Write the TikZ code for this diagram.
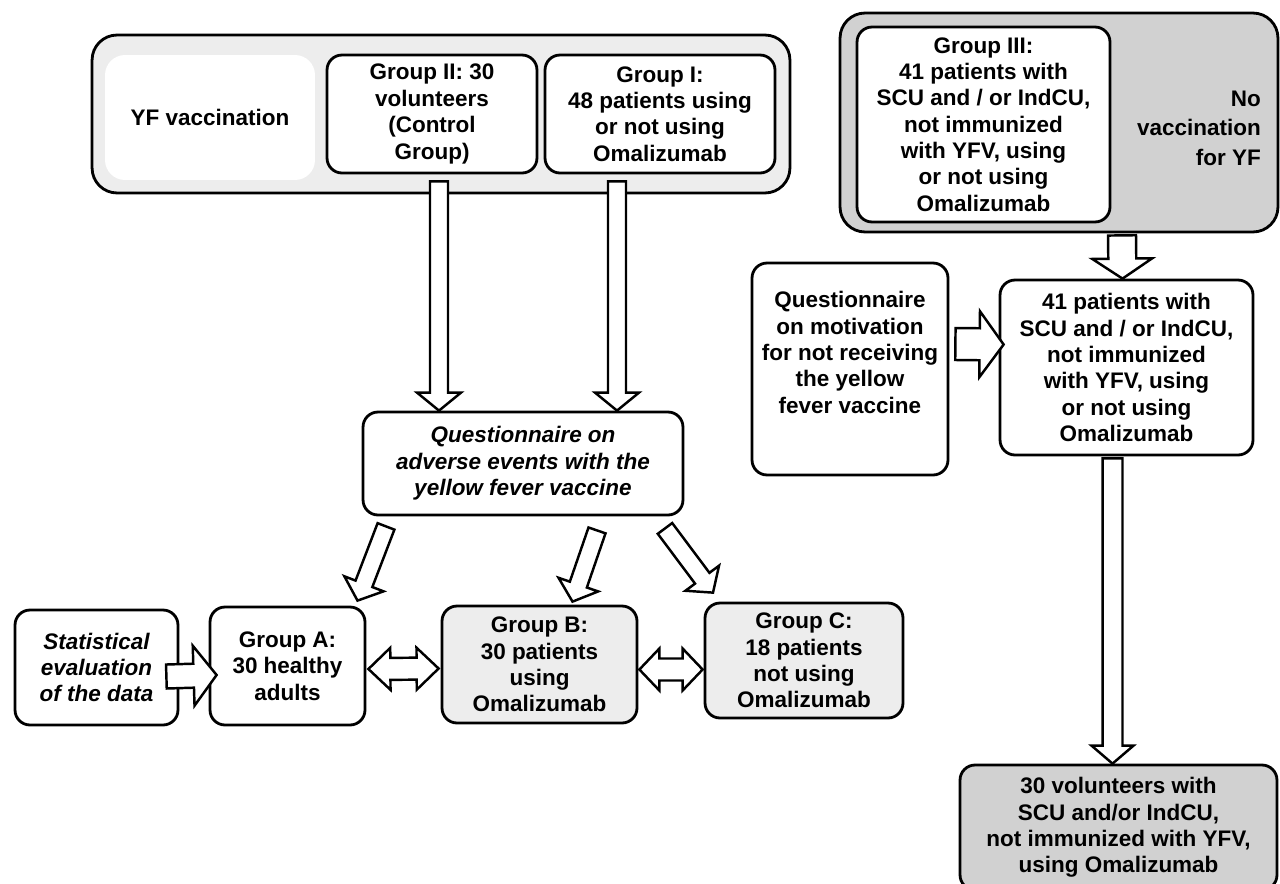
\documentclass[tikz,border=0pt]{standalone}
\usepackage{fontspec}
\setmainfont{Liberation Sans}
\usetikzlibrary{calc}

\definecolor{lightfill}{gray}{0.93}
\definecolor{darkfill}{gray}{0.82}
\tikzstyle{frame} = [rectangle, rounded corners=0.5cm, draw=black, line width=1.6pt, inner sep=0pt]
\tikzstyle{group} = [rectangle, rounded corners=0.3cm, draw=black, line width=1.6pt, fill=white, align=center, inner sep=0pt, font=\fontsize{12.8}{15}\selectfont\bfseries]
\tikzstyle{query} = [group, font=\fontsize{12.8}{15}\selectfont\bfseries\itshape]
\tikzstyle{blockarrow} = [draw=black, fill=white, line width=1.4pt, line join=miter]

% hollow arrow: tail, tip, half shaft, half head, head length
\newcommand{\blockarrow}[5]{%
  \coordinate (ba-s) at (#1);
  \coordinate (ba-t) at (#2);
  \coordinate (ba-h) at ($(ba-t)!#5!(ba-s)$);
  \draw [blockarrow] ($(ba-s)!#3!90:(ba-t)$) -- ($(ba-h)!#3!90:(ba-t)$) -- ($(ba-h)!#4!90:(ba-t)$) -- (ba-t)
    -- ($(ba-h)!#4!-90:(ba-t)$) -- ($(ba-h)!#3!-90:(ba-t)$) -- ($(ba-s)!#3!-90:(ba-t)$) -- cycle;
}
% same with a head on both ends
\newcommand{\blockdarrow}[5]{%
  \coordinate (ba-s) at (#1);
  \coordinate (ba-t) at (#2);
  \coordinate (ba-h) at ($(ba-t)!#5!(ba-s)$);
  \coordinate (ba-g) at ($(ba-s)!#5!(ba-t)$);
  \draw [blockarrow] (ba-s) -- ($(ba-g)!#4!90:(ba-t)$) -- ($(ba-g)!#3!90:(ba-t)$) -- ($(ba-h)!#3!90:(ba-t)$) -- ($(ba-h)!#4!90:(ba-t)$) -- (ba-t)
    -- ($(ba-h)!#4!-90:(ba-t)$) -- ($(ba-h)!#3!-90:(ba-t)$) -- ($(ba-g)!#3!-90:(ba-t)$) -- ($(ba-g)!#4!-90:(ba-t)$) -- cycle;
}

\begin{document}
\begin{tikzpicture}[x=0.02cm, y=-0.02cm]
  \useasboundingbox (0,0) rectangle (1280,883);
  \clip (0,0) rectangle (1280,883);
  % vaccinated groups
  \node (yf) [frame, fill=lightfill, minimum width=13.96cm, minimum height=3.16cm] at (441,114) {};
  \node (yfv) [group, draw=none, rounded corners=0.4cm, minimum width=4.2cm, minimum height=2.5cm] at (210,117.5) {YF vaccination};
  \node (g2) [group, minimum width=4.2cm, minimum height=2.36cm] at (432,114) {Group II: 30\\volunteers\\(Control\\Group)};
  \node (g1) [group, minimum width=4.6cm, minimum height=2.36cm] at (660,114) {Group I:\\48 patients using\\or not using\\Omalizumab};
  \node (qa) [query, minimum width=6.4cm, minimum height=2.06cm] at (523,463.5) {Questionnaire on\\adverse events with the\\yellow fever vaccine};
  \node (stat) [query, minimum width=3.26cm, minimum height=2.3cm] at (96.5,667.5) {Statistical\\evaluation\\of the data};
  \node (ga) [group, minimum width=3.1cm, minimum height=2.36cm] at (287.5,666) {Group A:\\30 healthy\\adults};
  \node (gb) [group, fill=lightfill, minimum width=3.9cm, minimum height=2.34cm] at (539.5,664.5) {Group B:\\30 patients\\using\\Omalizumab};
  \node (gc) [group, fill=lightfill, minimum width=3.96cm, minimum height=2.3cm] at (804,660.5) {Group C:\\18 patients\\not using\\Omalizumab};
  % not vaccinated
  \node (g3box) [frame, fill=darkfill, minimum width=8.76cm, minimum height=4.38cm] at (1059,122.5) {};
  \node (g3) [group, minimum width=5.06cm, minimum height=3.9cm] at (983.5,124.5) {Group III:\\41 patients with\\SCU and / or IndCU,\\not immunized\\with YFV, using\\or not using\\Omalizumab};
  \node (novac) [anchor=east, align=right, font=\fontsize{12.8}{16.8}\selectfont\bfseries] at (1267,128) {No\\vaccination\\for YF};
  \node (mot) [group, minimum width=3.92cm, minimum height=4.24cm] at (850,369) {Questionnaire\\on motivation\\for not receiving\\the yellow\\fever vaccine\\[4pt]\mbox{}};
  \node (p41) [group, minimum width=5.06cm, minimum height=3.5cm] at (1126.5,367.5) {41 patients with\\SCU and / or IndCU,\\not immunized\\with YFV, using\\or not using\\Omalizumab};
  \node (v30) [group, fill=darkfill, minimum width=6.34cm, minimum height=2.5cm] at (1118.5,827.5) {30 volunteers with\\SCU and/or IndCU,\\not immunized with YFV,\\using Omalizumab};

  \blockarrow{[shift={(7,7)}]g2.south}{[shift={(-84,0)}]qa.north}{1.8mm}{4.4mm}{3.6mm}
  \blockarrow{[shift={(-43,7)}]g1.south}{[shift={(94,0)}]qa.north}{1.8mm}{4.4mm}{3.6mm}
  \blockarrow{[shift={(-137,10)}]qa.south}{[shift={(70,-5)}]ga.north}{1.8mm}{4.2mm}{3.6mm}
  \blockarrow{[shift={(74,14)}]qa.south}{[shift={(33,-3)}]gb.north}{1.8mm}{4.2mm}{3.6mm}
  \blockarrow{[shift={(142,12)}]qa.south}{[shift={(-91,-9)}]gc.north}{1.8mm}{4.2mm}{3.6mm}
  \blockarrow{[shift={(-13,9)}]stat.east}{[shift={(8,9)}]ga.west}{2.4mm}{6mm}{4.6mm}
  \blockdarrow{[shift={(2,3)}]ga.east}{[shift={(-2,4)}]gb.west}{2.2mm}{4.2mm}{4.4mm}
  \blockdarrow{[shift={(1,5)}]gb.east}{[shift={(-1,9)}]gc.west}{2.2mm}{4.2mm}{4mm}

  \blockarrow{[shift={(63,2)}]g3box.south}{[shift={(-4,0)}]p41.north}{2.8mm}{6mm}{4mm}
  \blockarrow{[shift={(6,-25)}]mot.east}{[shift={(5,-23)}]p41.west}{3.2mm}{6.6mm}{4.8mm}
  \blockarrow{[shift={(-14,2)}]p41.south}{[shift={(-6,0)}]v30.north}{2mm}{4.2mm}{3.6mm}
\end{tikzpicture}
\end{document}
